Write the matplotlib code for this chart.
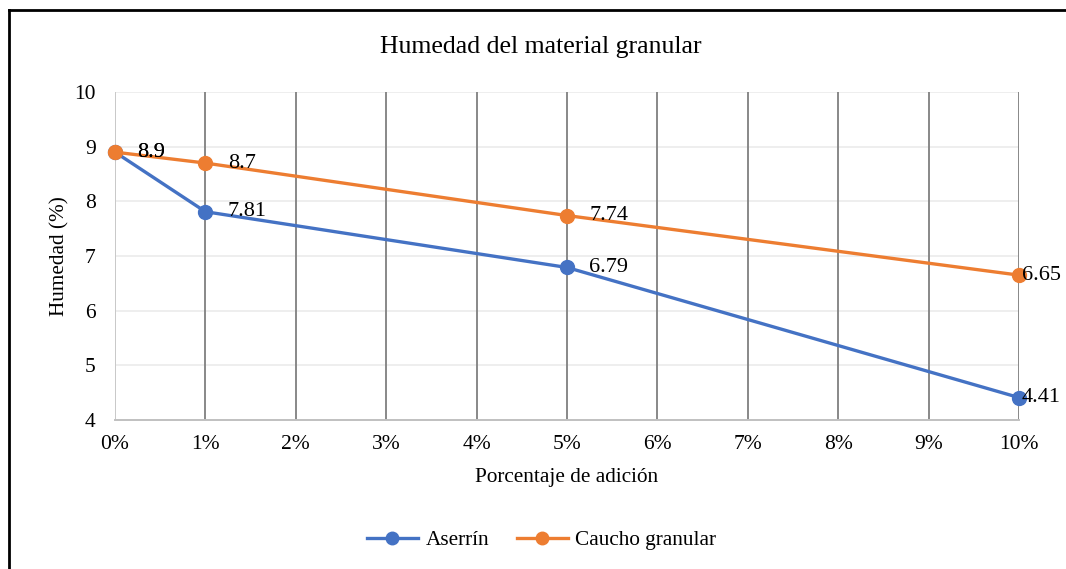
import matplotlib
matplotlib.use("Agg")
import matplotlib.pyplot as plt
from matplotlib.lines import Line2D

# data
pct = [0, 1, 5, 10]
aserrin = [8.9, 7.81, 6.79, 4.41]
caucho = [8.9, 8.7, 7.74, 6.65]
xticks = list(range(0, 11))
xlabels = [f"{v}%" for v in xticks]
yticks = [4, 5, 6, 7, 8, 9, 10]

plt.rcParams['font.family'] = ['Liberation Serif', 'DejaVu Serif']

fig = plt.figure(figsize=(10.66, 5.69), dpi=100)
ax = fig.add_axes([0.1079, 0.2619, 0.848, 0.5764])

ax.set_xlim(0, 10)
ax.set_ylim(4, 10)
ax.set_xticks(xticks)
ax.set_xticklabels(xlabels, fontsize=15.5)
ax.set_yticks(yticks)
ax.set_yticklabels([str(v) for v in yticks], fontsize=15.5)
ax.tick_params(length=0)
ax.tick_params(axis='x', pad=11)
ax.tick_params(axis='y', pad=14)

for y in yticks[1:]:
    ax.axhline(y, color='#ebebeb', lw=1.2, zorder=0)
for x in xticks[1:]:
    ax.axvline(x, color='#888888', lw=1.4, zorder=0)
ax.axvline(0, color='#c8c8c8', lw=1.4, zorder=0)

for s in ['top', 'right', 'left']:
    ax.spines[s].set_visible(False)
ax.spines['bottom'].set_color('#c0c0c0')
ax.spines['bottom'].set_linewidth(1.4)

blue = '#4472C4'
orange = '#ED7D31'
ax.plot(pct, aserrin, color=blue, lw=2.4, marker='o', ms=10, zorder=3, clip_on=False)
ax.plot(pct, caucho, color=orange, lw=2.4, marker='o', ms=10, zorder=3, clip_on=False)

for series in (aserrin, caucho):
    for i, (x, y) in enumerate(zip(pct, series)):
        off = 2 if i == len(pct) - 1 else 16
        ax.annotate(f"{y:g}", (x, y), xytext=(off, 0), textcoords='offset points',
                    ha='left', va='center', fontsize=16, zorder=4)

ax.set_xlabel("Porcentaje de adición", fontsize=15.3, labelpad=10)
ax.set_ylabel("Humedad (%)", fontsize=15.3, labelpad=3)
fig.text(0.507, 0.917, "Humedad del material granular", ha='center', va='center', fontsize=18.5)

handles = [Line2D([], [], color=blue, lw=2.4, marker='o', ms=9),
           Line2D([], [], color=orange, lw=2.4, marker='o', ms=9)]
fig.legend(handles, ["Aserrín", "Caucho granular"], loc='center', bbox_to_anchor=(0.508, 0.05),
           ncol=2, frameon=False, fontsize=15.3, handlelength=2.4, handletextpad=0.35,
           columnspacing=1.3)

# chart frame (top and left edges visible)
fig.add_artist(Line2D([0.0085, 1.0], [0.983, 0.983], transform=fig.transFigure, color='black', lw=2))
fig.add_artist(Line2D([0.0085, 0.0085], [0.0, 0.983], transform=fig.transFigure, color='black', lw=2))

fig.savefig("out.png", dpi=100)
